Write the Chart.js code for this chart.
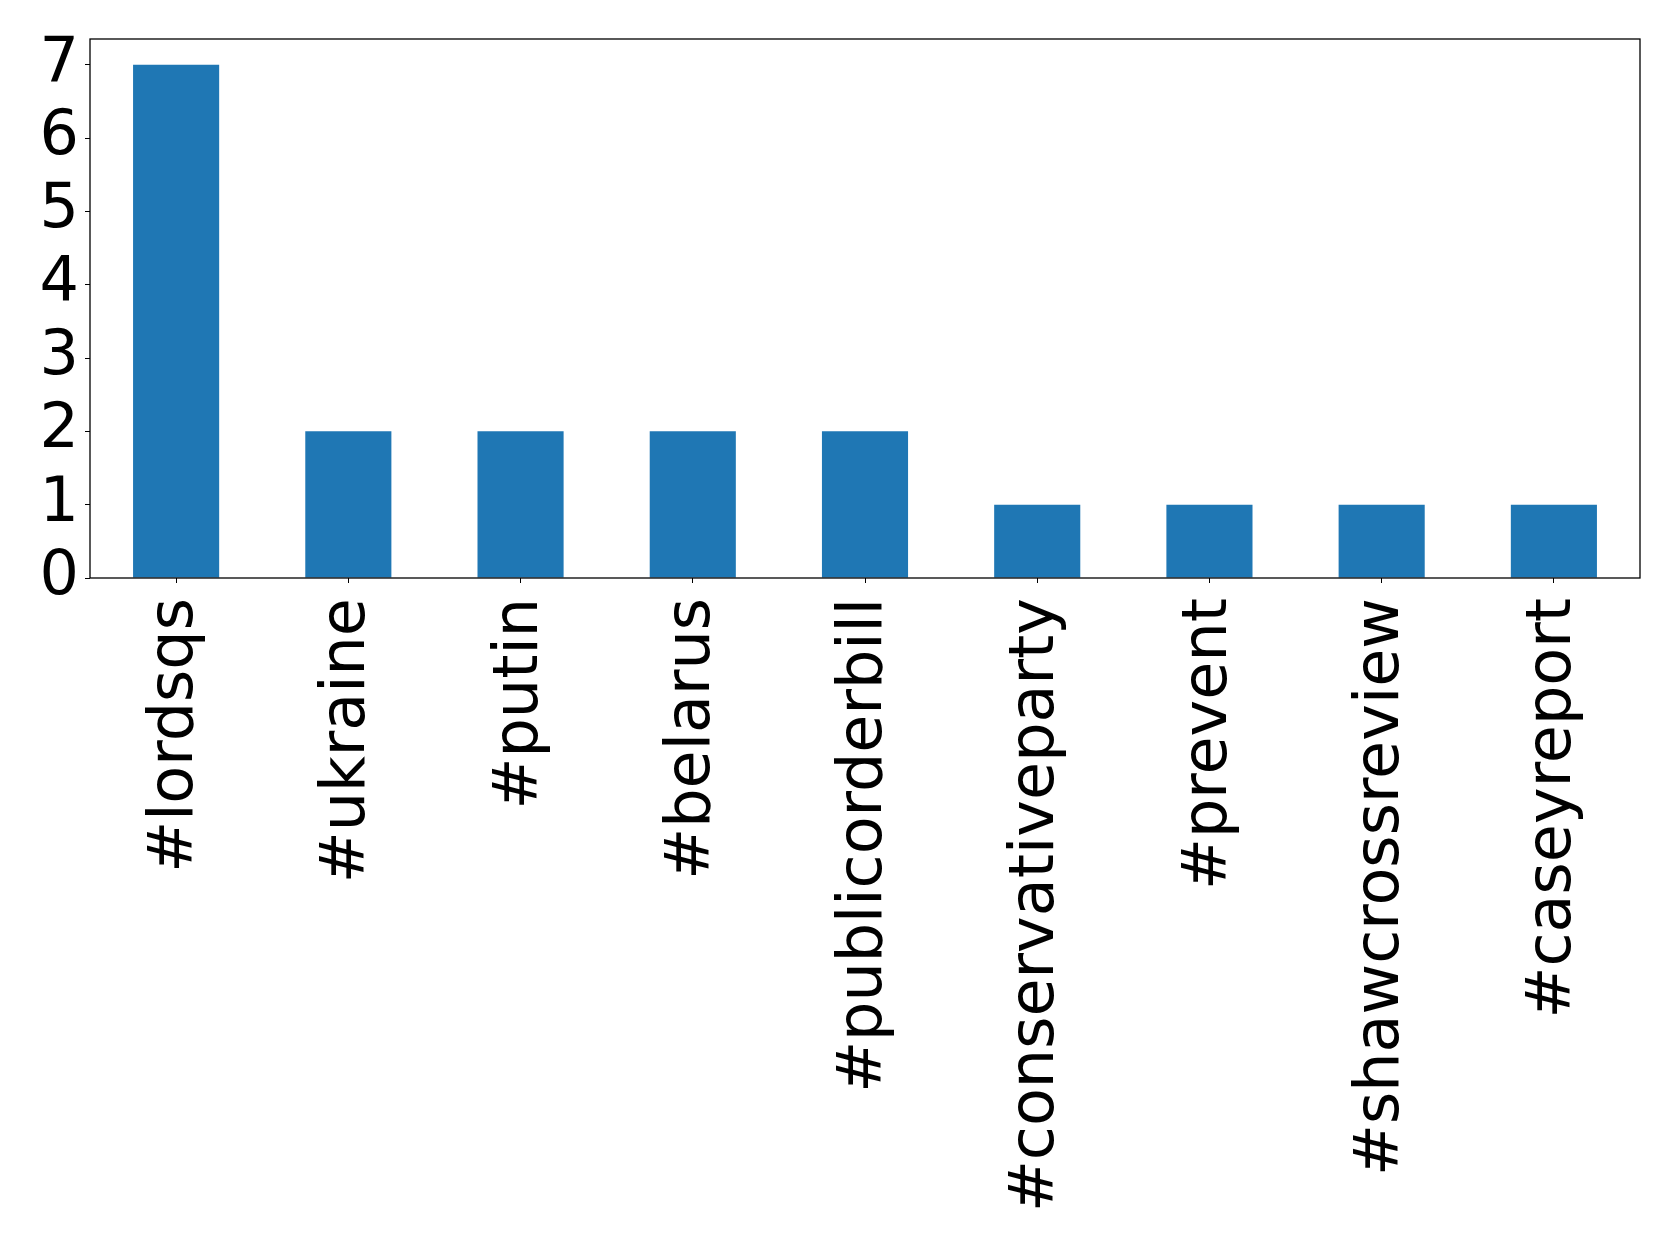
<!DOCTYPE html>
<html>
<head>
<meta charset="utf-8">
<script src="https://cdn.jsdelivr.net/npm/chart.js@4/dist/chart.umd.min.js"></script>
<style>
    html, body { margin: 0; padding: 0; background: #fff; }
    #wrap { width: 1679px; height: 1247px; }
</style>
</head>
<body>
<div id="wrap"><canvas id="barChart" width="1679" height="1247"></canvas></div>
<script>
const hashtags = ['#lordsqs', '#ukraine', '#putin', '#belarus', '#publicorderbill',
    '#conservativeparty', '#prevent', '#shawcrossreview', '#caseyreport'],
    counts = [7, 2, 2, 2, 2, 1, 1, 1, 1],
    yTicks = [0, 1, 2, 3, 4, 5, 6, 7];

const font = { family: 'DejaVu Sans', size: 62 };

// box round the plot area, like matplotlib's spines
const frame = {
    id: 'frame',
    afterDraw(chart) {
        const { ctx, chartArea: a } = chart;
        ctx.save();
        ctx.strokeStyle = '#000';
        ctx.lineWidth = 1.3;
        ctx.strokeRect(a.left, a.top, a.right - a.left, a.bottom - a.top);
        ctx.restore();
    }
};

const barChart = document.getElementById('barChart');

let bar = new Chart(barChart, {
    type: 'bar',
    data: {
        labels: hashtags,
        datasets: [{
            data: counts,
            backgroundColor: '#1f77b4',
            barPercentage: 0.5,
            categoryPercentage: 1.0
        }]
    },
    options: {
        responsive: false,
        animation: false,
        layout: { padding: { top: 39, right: 39, left: 0, bottom: 0 } },
        plugins: { legend: { display: false }, tooltip: { enabled: false } },
        scales: {
            x: {
                offset: true,
                grid: { display: true, offset: false, drawOnChartArea: false, drawTicks: true, tickLength: 5, color: '#000' },
                border: { display: false },
                ticks: {
                    autoSkip: false, maxRotation: 90, minRotation: 90,
                    color: '#000', font: font, padding: 15
                },
                afterFit(axis) { axis.height = 669; }
            },
            y: {
                min: 0,
                max: 7.35,
                grid: { display: true, drawOnChartArea: false, drawTicks: true, tickLength: 5, color: '#000' },
                border: { display: false },
                ticks: { autoSkip: false, color: '#000', font: font, padding: 6 },
                afterBuildTicks(axis) { axis.ticks = yTicks.map(v => ({ value: v })); },
                afterFit(axis) {
                    axis.width = 90;
                    axis.paddingTop = 0;
                    axis.paddingBottom = 0;
                }
            }
        }
    },
    plugins: [frame]
});
</script>
</body>
</html>
